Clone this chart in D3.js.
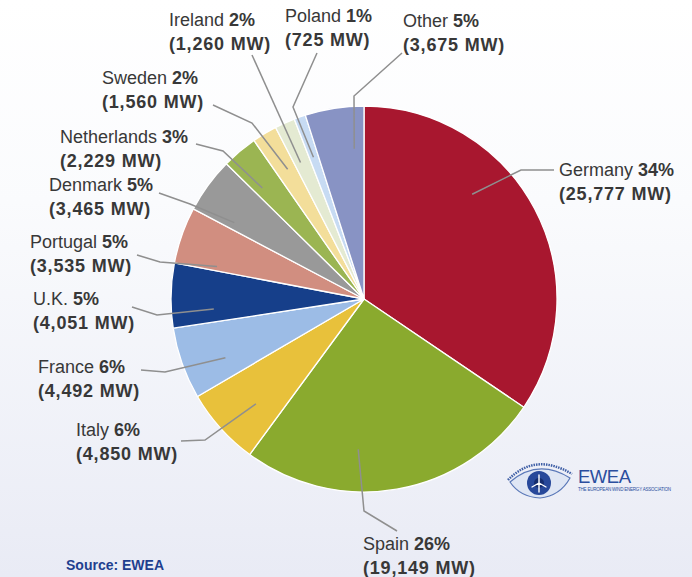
<!DOCTYPE html>
<html>
<head>
<meta charset="utf-8">
<script src="https://cdn.jsdelivr.net/npm/d3@7"></script>
<style>
  html, body { margin: 0; padding: 0; }
  body { width: 692px; height: 577px; overflow: hidden; }
  svg { display: block; font-family: "Liberation Sans", Arial, sans-serif; }
</style>
</head>
<body>
<div id="chart"></div>
<script>
const countries = ["Germany", "Spain", "Italy", "France", "U.K.", "Portugal", "Denmark",
  "Netherlands", "Sweden", "Ireland", "Poland", "Other"];
const capacityMW = [25777, 19149, 4850, 4492, 4051, 3535, 3465, 2229, 1560, 1260, 725, 3675];
const sliceColors = ["#a8172f", "#8aaa2e", "#e8c13b", "#9cbce6", "#163f8a", "#d18e80",
  "#999999", "#9bb552", "#f3de9a", "#e4ead2", "#c7dbf3", "#8893c4"];

// hand placed labels, like the original: text x, baseline y, leader start, elbow,
// and where the leader ends inside the slice (fraction of slice angle)
const labelLayout = [
  { x: 559, y: 176, start: [554, 170], elbow: [521, 170], frac: 0.37 },
  { x: 363, y: 550, start: [397, 531], elbow: [364, 511], frac: 0.63 },
  { x: 76, y: 436, start: [181, 441], elbow: [205, 440], frac: 0.41 },
  { x: 38, y: 373, start: [141, 370], elbow: [165, 372], frac: 0.34 },
  { x: 33, y: 305, start: [132, 307], elbow: [157, 315], frac: 0.25 },
  { x: 30, y: 248, start: [137, 255], elbow: [160, 262], frac: 0.1 },
  { x: 49, y: 191, start: [159, 193], elbow: [190, 204], frac: 0.16 },
  { x: 60, y: 143, start: [196, 144], elbow: [223, 151], frac: 0.28 },
  { x: 102, y: 84, start: [213, 105], elbow: [252, 123], frac: 0.57 },
  { x: 169, y: 26, start: [252, 55], elbow: null, frac: 0.38 },
  { x: 285, y: 22, start: [317, 53], elbow: [293, 107], frac: 0.45 },
  { x: 403, y: 27, start: [402, 53], elbow: [354, 96], frac: 0.79 }
];

const [width, height] = [692, 577];
const [cx, cy, radius] = [364, 299, 193];

const total = d3.sum(capacityMW);
const fmt = d3.format(",");

const data = countries.map((c, i) => ({
  name: c,
  mw: capacityMW[i],
  pct: Math.round(capacityMW[i] / total * 100),
  color: sliceColors[i],
  layout: labelLayout[i]
}));

const svg = d3.select("#chart").append("svg")
  .attr("width", width)
  .attr("height", height);

const grad = svg.append("defs").append("linearGradient")
  .attr("id", "bg").attr("x1", 0).attr("y1", 0).attr("x2", 0).attr("y2", 1);
grad.append("stop").attr("offset", "0%").attr("stop-color", "#ffffff");
grad.append("stop").attr("offset", "35%").attr("stop-color", "#fafbfd");
grad.append("stop").attr("offset", "100%").attr("stop-color", "#e9ebf5");

svg.append("rect").attr("width", width).attr("height", height).attr("fill", "url(#bg)");

const pie = d3.pie().sort(null).value(d => d.mw);
const arcs = pie(data);
const arc = d3.arc().innerRadius(0).outerRadius(radius);

const g = svg.append("g").attr("transform", `translate(${cx},${cy})`);

g.selectAll("path.slice")
  .data(arcs)
  .enter().append("path")
  .attr("class", "slice")
  .attr("d", arc)
  .attr("fill", d => d.data.color)
  .attr("stroke", "#ffffff")
  .attr("stroke-width", 1.3)
  .attr("stroke-linejoin", "round");

// leader lines
const line = d3.line();
svg.selectAll("path.leader")
  .data(arcs)
  .enter().append("path")
  .attr("class", "leader")
  .attr("d", d => {
    const L = d.data.layout;
    const a = d.startAngle + (d.endAngle - d.startAngle) * L.frac;
    const r = radius * 0.78;
    const end = [cx + r * Math.sin(a), cy - r * Math.cos(a)];
    const pts = [L.start];
    if (L.elbow) pts.push(L.elbow);
    pts.push(end);
    return line(pts);
  })
  .attr("fill", "none")
  .attr("stroke", "#8f8f8f")
  .attr("stroke-width", 1.5);

// labels
const labels = svg.selectAll("text.label")
  .data(data)
  .enter().append("text")
  .attr("class", "label")
  .attr("x", d => d.layout.x)
  .attr("y", d => d.layout.y)
  .attr("fill", "#383838")
  .attr("font-size", 18);

labels.append("tspan").text(d => d.name + " ");
labels.append("tspan").attr("font-weight", "bold").text(d => d.pct + "%");
labels.append("tspan")
  .attr("x", d => d.layout.x)
  .attr("dy", 23.5)
  .attr("font-weight", "bold")
  .attr("letter-spacing", 0.8)
  .text(d => "(" + fmt(d.mw) + " MW)");

// source
svg.append("text")
  .attr("x", 66).attr("y", 570)
  .attr("font-size", 14).attr("font-weight", "bold")
  .attr("fill", "#1f3f8f")
  .text("Source: EWEA");

// EWEA logo
const logo = svg.append("g").attr("class", "logo");
logo.append("path")
  .attr("d", "M510,482 Q538,458 570,478 Q560,496 540,498 Q520,497 510,482 Z")
  .attr("fill", "#dfe6f4").attr("stroke", "#5a78b8").attr("stroke-width", 1.2);
logo.append("path")
  .attr("d", "M508,480 Q535,452 572,474")
  .attr("fill", "none").attr("stroke", "#3f5fa6").attr("stroke-width", 2.5)
  .attr("stroke-dasharray", "1.5,1");
logo.append("circle").attr("cx", 539).attr("cy", 483).attr("r", 12).attr("fill", "#27489a");
logo.append("circle").attr("cx", 539).attr("cy", 483).attr("r", 5).attr("fill", "#142c6e");
logo.append("path")
  .attr("d", "M539,483 L539,475 M539,483 L546,487 M539,483 L532,487 M539,483 L539,492")
  .attr("stroke", "#ffffff").attr("stroke-width", 1.4).attr("stroke-linecap", "round");
logo.append("text")
  .attr("x", 578).attr("y", 483)
  .attr("font-size", 18.5)
  .attr("fill", "#2b4e9e")
  .attr("textLength", 53)
  .text("EWEA");
logo.append("text")
  .attr("x", 578).attr("y", 491)
  .attr("font-size", 4.5)
  .attr("fill", "#2b4e9e")
  .attr("textLength", 93)
  .text("THE EUROPEAN WIND ENERGY ASSOCIATION");
</script>
</body>
</html>
